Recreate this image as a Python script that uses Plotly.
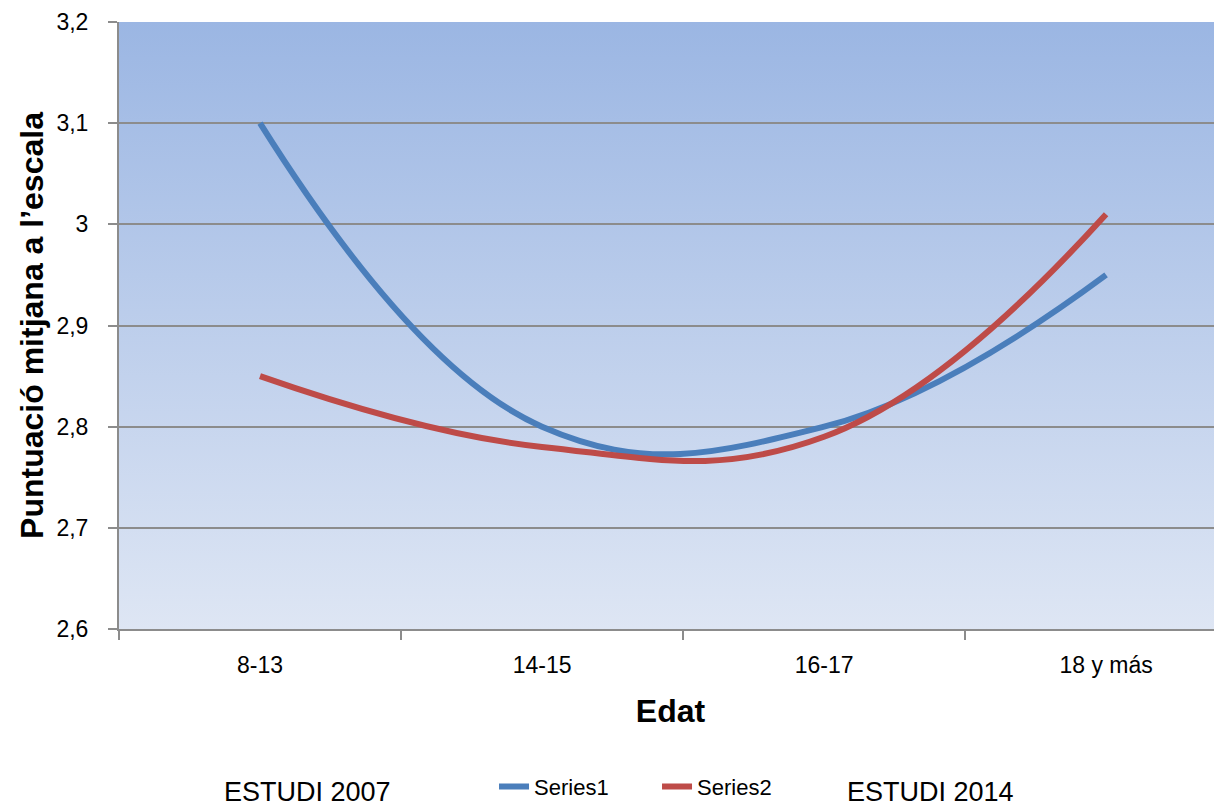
import base64
import plotly.graph_objects as go

categories = ["8-13", "14-15", "16-17", "18 y más"]
series1 = [3.10, 2.80, 2.80, 2.95]
series2 = [2.85, 2.78, 2.79, 3.01]
y_ticks = [2.6, 2.7, 2.8, 2.9, 3.0, 3.1, 3.2]

svg = ('<svg xmlns="http://www.w3.org/2000/svg" width="100" height="100" preserveAspectRatio="none">'
       '<defs><linearGradient id="g" x1="0" y1="0" x2="0" y2="1">'
       '<stop offset="0" stop-color="#9BB6E3"/><stop offset="1" stop-color="#DEE6F4"/>'
       '</linearGradient></defs><rect width="100" height="100" fill="url(#g)"/></svg>')
src = "data:image/svg+xml;base64," + base64.b64encode(svg.encode()).decode()

FONT = "Liberation Sans, Arial"

fig = go.Figure()
fig.add_trace(go.Scatter(x=list(range(len(categories))), y=series1, name="Series1", mode="lines",
                         line=dict(color="#4A7EBB", width=6, shape="spline", smoothing=1.2)))
fig.add_trace(go.Scatter(x=list(range(len(categories))), y=series2, name="Series2", mode="lines",
                         line=dict(color="#BE4B48", width=6, shape="spline", smoothing=1.2)))

fig.update_layout(
    width=1214, height=801,
    margin=dict(l=111, r=0, t=14, b=180),
    paper_bgcolor="white", plot_bgcolor="rgba(0,0,0,0)",
    separators=", ",
    font=dict(family=FONT, size=22, color="black"),
    images=[dict(source=src, xref="paper", yref="paper", x=0, y=1, sizex=1, sizey=1,
                 sizing="stretch", layer="below", xanchor="left", yanchor="top")],
    showlegend=True,
    legend=dict(orientation="h", x=0.34, y=-0.260, xanchor="left", yanchor="middle",
                font=dict(size=22, family=FONT), entrywidth=118, tracegroupgap=0,
                bgcolor="rgba(0,0,0,0)"),
    annotations=[
        dict(text="ESTUDI 2007", xref="paper", yref="paper", x=0.171, y=-0.268,
             xanchor="center", yanchor="middle",
             showarrow=False, font=dict(size=27, family=FONT)),
        dict(text="ESTUDI 2014", xref="paper", yref="paper", x=0.736, y=-0.268,
             xanchor="center", yanchor="middle",
             showarrow=False, font=dict(size=27, family=FONT)),
    ],
)

fig.update_xaxes(
    range=[-0.5, 3.411], tickmode="array", tickvals=list(range(len(categories))), ticktext=categories,
    ticks="", showgrid=False, showline=True, linecolor="#8C8C8C", linewidth=2,
    tickfont=dict(size=23), zeroline=False, ticklabelstandoff=14,
    title=dict(text="<b>Edat</b>", font=dict(size=32, family=FONT), standoff=23),
)
fig.update_xaxes(minor=dict(tickmode="array", tickvals=[-0.5, 0.5, 1.5, 2.5], ticks="outside",
                            ticklen=9, tickcolor="#8C8C8C", tickwidth=1.5, showgrid=False))
fig.update_yaxes(
    range=[2.6, 3.2], tickmode="array", tickvals=y_ticks,
    ticktext=[("%g" % v).replace(".", ",") for v in y_ticks],
    ticks="outside", ticklen=9, tickcolor="#8C8C8C", tickwidth=1.5,
    showgrid=True, gridcolor="#8C8C8C", gridwidth=2,
    showline=True, linecolor="#8C8C8C", linewidth=2, zeroline=False,
    tickfont=dict(size=23), ticklabelstandoff=15,
    title=dict(text="<b>Puntuació mitjana a l’escala</b>",
               font=dict(size=32, family=FONT), standoff=3),
)

fig.write_html("out.html")
